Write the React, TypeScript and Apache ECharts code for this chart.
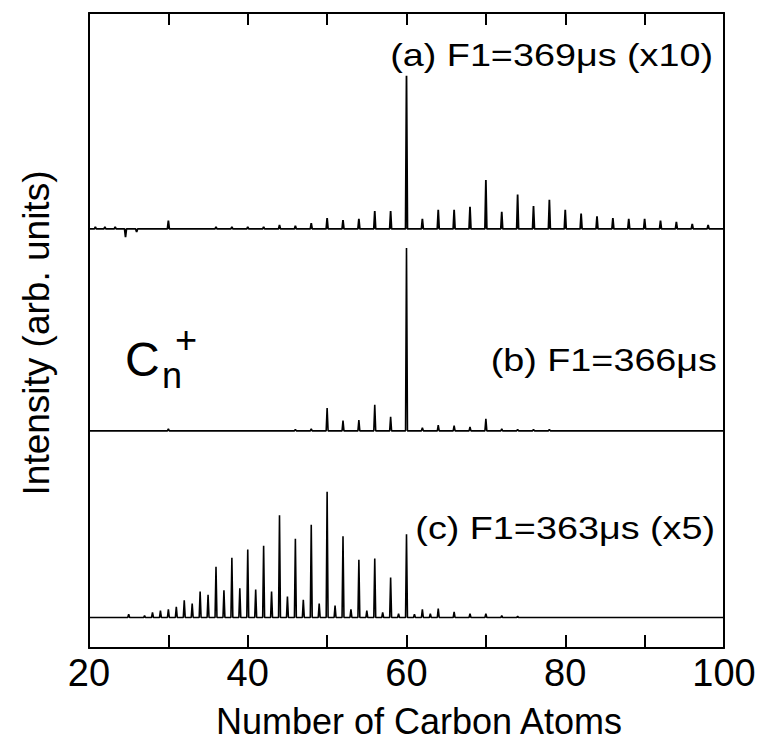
import React, { useEffect, useRef } from "react";
import * as echarts from "echarts";

// Axis settings
const X_MIN = 20;
const X_MAX = 100;
const X_TICK_STEP = 10;
const X_LABEL_STEP = 20;
const Y_MIN = 0;
const Y_MAX = 100;

// Peak lists: [number of carbon atoms, peak height (arb. units)]
const peaksA: [number, number][] = [
  [20.8, 0.3], [22, 0.3], [23.3, 0.3], [24.6, -1.3], [26, -0.5],
  [30, 1.3], [36, 0.3], [38, 0.3], [40, 0.3], [42, 0.3],
  [44, 0.6], [46, 0.5], [48, 0.9], [50, 1.7], [52, 1.4], [54, 1.6],
  [56, 2.8], [58, 2.8], [60, 24.1], [62, 1.6], [64, 3.0], [66, 3.0],
  [68, 3.5], [70, 7.7], [72, 2.7], [74, 5.4], [76, 3.6], [78, 4.6],
  [80, 3.0], [82, 2.4], [84, 2.0], [86, 1.7], [88, 1.6], [90, 1.6],
  [92, 1.3], [94, 1.1], [96, 0.8], [98, 0.6],
];

const peaksB: [number, number][] = [
  [30, 0.3], [46, 0.2], [48, 0.3], [50, 3.6], [52, 1.6], [54, 1.7],
  [56, 4.1], [58, 2.2], [60, 28.8], [62, 0.5], [64, 0.9], [66, 0.8],
  [68, 0.6], [70, 1.9], [72, 0.3], [74, 0.2], [76, 0.2], [78, 0.2],
];

const peaksC: [number, number][] = [
  [25, 0.5], [27, 0.3], [28, 0.8], [29, 1.1], [30, 1.3], [31, 1.7],
  [32, 2.7], [33, 2.2], [34, 4.1], [35, 3.6], [36, 8.0], [37, 4.3],
  [38, 9.4], [39, 4.6], [40, 10.7], [41, 4.4], [42, 11.3], [43, 4.1],
  [44, 16.1], [45, 3.3], [46, 12.4], [47, 2.8], [48, 14.6], [49, 2.2],
  [50, 19.8], [51, 1.9], [52, 12.8], [53, 1.3], [54, 9.1], [55, 1.1],
  [56, 9.3], [57, 0.8], [58, 6.3], [59, 0.6], [60, 13.1], [61, 0.5],
  [62, 1.3], [63, 0.6], [64, 1.4], [66, 0.9], [68, 0.6], [70, 0.6],
  [72, 0.3], [74, 0.2],
];

// Vertical offsets of the stacked traces (arb. units)
const OFFSET_A = 66.0;
const OFFSET_B = 34.2;
const OFFSET_C = 4.8;

const LABEL_A = "(a) F1=369μs (x10)";
const LABEL_B = "(b) F1=366μs";
const LABEL_C = "(c) F1=363μs (x5)";
const X_TITLE = "Number of Carbon Atoms";
const Y_TITLE = "Intensity (arb. units)";

const FONT = "'Liberation Sans', Arial, Helvetica, sans-serif";
const SPIKE_HALF_WIDTH = 0.12;

function spikeLine(peaks: [number, number][], offset: number): number[][] {
  const pts: number[][] = [[X_MIN, offset]];
  for (const [n, h] of peaks) {
    pts.push([n - SPIKE_HALF_WIDTH, offset], [n, offset + h], [n + SPIKE_HALF_WIDTH, offset]);
  }
  pts.push([X_MAX, offset]);
  return pts;
}

export default function App() {
  const ref = useRef<HTMLDivElement>(null);

  useEffect(() => {
    if (!ref.current) return;
    const chart = echarts.init(ref.current, null, { renderer: "svg" });

    const lineSeries = (name: string, peaks: [number, number][], offset: number, width: number) => ({
      name,
      type: "line",
      data: spikeLine(peaks, offset),
      symbol: "none",
      lineStyle: { color: "#000", width },
      z: 3,
    });

    const labelText = (text: string, x: number, y: number) => ({
      type: "text",
      x,
      y,
      scaleX: 1.18,
      style: {
        text,
        fontSize: 32,
        fontFamily: FONT,
        fill: "#000",
        align: "right",
        verticalAlign: "middle",
      },
    });

    const axisLine = { show: true, onZero: false, lineStyle: { color: "#000", width: 2 } };

    chart.setOption({
      animation: false,
      backgroundColor: "#fff",
      grid: { left: 89, right: 35, top: 13, bottom: 93 },
      xAxis: [
        {
          type: "value",
          position: "bottom",
          min: X_MIN,
          max: X_MAX,
          interval: X_TICK_STEP,
          axisLine,
          axisTick: { show: true, inside: true, length: 13, lineStyle: { color: "#000", width: 2 } },
          axisLabel: {
            show: true,
            margin: 6,
            fontSize: 38,
            fontFamily: FONT,
            color: "#000",
            formatter: (v: number) => (v % X_LABEL_STEP === 0 ? String(v) : ""),
          },
          splitLine: { show: false },
        },
        {
          type: "value",
          position: "top",
          min: X_MIN,
          max: X_MAX,
          interval: X_TICK_STEP,
          axisLine,
          axisTick: { show: true, inside: true, length: 12, lineStyle: { color: "#000", width: 2 } },
          axisLabel: { show: false },
          splitLine: { show: false },
        },
      ],
      yAxis: [
        {
          type: "value",
          position: "left",
          min: Y_MIN,
          max: Y_MAX,
          axisLine,
          axisTick: { show: false },
          axisLabel: { show: false },
          splitLine: { show: false },
        },
        {
          type: "value",
          position: "right",
          min: Y_MIN,
          max: Y_MAX,
          axisLine,
          axisTick: { show: false },
          axisLabel: { show: false },
          splitLine: { show: false },
        },
      ],
      series: [
        lineSeries("a", peaksA, OFFSET_A, 1.8),
        lineSeries("b", peaksB, OFFSET_B, 1.6),
        lineSeries("c", peaksC, OFFSET_C, 1.6),
      ],
      graphic: [
        labelText(LABEL_A, 713, 55),
        labelText(LABEL_B, 717, 359.5),
        labelText(LABEL_C, 715, 528),
        {
          type: "text",
          x: 125,
          y: 359.5,
          style: { text: "C", fontSize: 48, fontFamily: FONT, fill: "#000", align: "left", verticalAlign: "middle" },
        },
        {
          type: "text",
          x: 162,
          y: 375,
          style: { text: "n", fontSize: 36, fontFamily: FONT, fill: "#000", align: "left", verticalAlign: "middle" },
        },
        {
          type: "text",
          x: 175,
          y: 340,
          style: { text: "+", fontSize: 38, fontFamily: FONT, fill: "#000", align: "left", verticalAlign: "middle" },
        },
        {
          type: "text",
          x: 419,
          y: 721,
          style: {
            text: X_TITLE,
            fontSize: 36,
            fontFamily: FONT,
            fill: "#000",
            align: "center",
            verticalAlign: "middle",
          },
        },
        {
          type: "text",
          x: 36,
          y: 333,
          rotation: Math.PI / 2,
          style: { text: Y_TITLE, fontSize: 37, fontFamily: FONT, fill: "#000", align: "center", verticalAlign: "middle" },
        },
      ],
    });

    return () => chart.dispose();
  }, []);

  return (
    <div
      ref={ref}
      style={{ position: "fixed", left: 0, top: 0, width: 759, height: 741, background: "#fff" }}
    />
  );
}
